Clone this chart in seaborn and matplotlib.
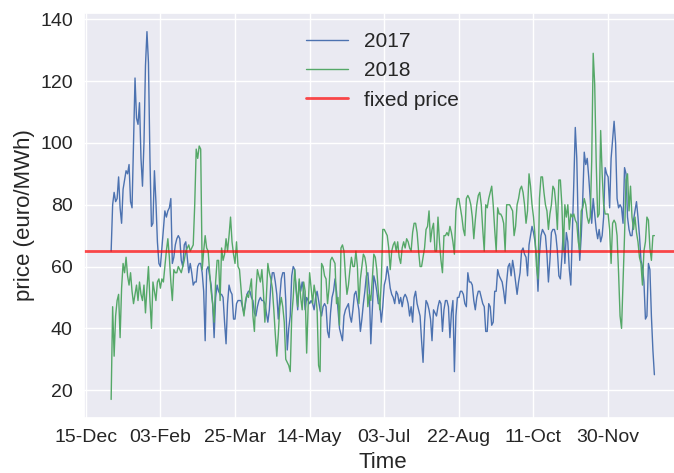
import matplotlib
matplotlib.use("Agg")
import matplotlib.pyplot as plt
import matplotlib.dates as mdates
import seaborn as sns
import pandas as pd

# ---- data ----
price_2017 = [
    65, 80, 84, 81, 82, 89, 79, 74, 85, 88,
    91, 90, 93, 81, 79, 100, 121, 108, 106, 113,
    95, 86, 100, 125, 136, 126, 95, 73, 74, 91,
    81, 68, 61, 60, 66, 72, 78, 76, 78, 79,
    82, 61, 63, 67, 69, 70, 69, 62, 60, 67,
    68, 63, 58, 61, 58, 54, 55, 55, 60, 61,
    61, 58, 52, 36, 59, 60, 57, 54, 48, 37,
    50, 54, 52, 51, 51, 50, 42, 35, 48, 54,
    52, 51, 43, 43, 48, 49, 49, 49, 47, 45,
    48, 51, 52, 52, 50, 49, 45, 44, 47, 49,
    50, 49, 49, 48, 45, 42, 46, 54, 58, 58,
    55, 51, 43, 50, 56, 58, 58, 49, 33, 40,
    44, 57, 60, 59, 52, 46, 55, 52, 55, 52,
    46, 50, 49, 48, 49, 48, 46, 50, 52, 49,
    46, 44, 47, 48, 47, 39, 37, 45, 50, 52,
    56, 52, 46, 40, 38, 36, 44, 46, 47, 48,
    44, 42, 46, 51, 52, 49, 46, 39, 43, 48,
    52, 57, 58, 52, 35, 46, 57, 55, 52, 48,
    48, 42, 47, 54, 56, 60, 57, 53, 51, 50,
    48, 52, 51, 48, 50, 47, 50, 51, 50, 48,
    44, 47, 42, 50, 52, 48, 46, 44, 36, 29,
    42, 49, 48, 46, 43, 36, 46, 45, 44, 47,
    49, 48, 39, 46, 49, 49, 47, 37, 45, 49,
    26, 44, 50, 50, 52, 52, 51, 48, 47, 58,
    55, 55, 54, 49, 46, 50, 52, 52, 50, 48,
    47, 39, 39, 48, 47, 41, 42, 52, 52, 59,
    57, 56, 55, 52, 48, 55, 60, 61, 57, 62,
    59, 55, 51, 55, 58, 65, 66, 64, 63, 57,
    67, 70, 73, 71, 68, 63, 52, 64, 70, 72,
    71, 70, 64, 55, 62, 71, 72, 72, 70, 65,
    57, 56, 63, 72, 61, 71, 68, 59, 54, 70,
    87, 105, 95, 72, 62, 70, 82, 97, 93, 95,
    89, 82, 74, 82, 77, 72, 69, 72, 68, 70,
    76, 92, 90, 89, 79, 95, 101, 107, 100, 82,
    79, 80, 79, 74, 92, 90, 76, 72, 70, 70,
    75, 78, 81, 76, 70, 62, 60, 55, 43, 44,
    61, 59, 44, 33, 25,
]

price_2018 = [
    17, 47, 31, 44, 49, 51, 37, 53, 61, 58,
    63, 57, 54, 58, 52, 48, 51, 54, 49, 55,
    51, 49, 54, 45, 53, 60, 49, 40, 55, 52,
    49, 55, 56, 53, 56, 55, 60, 65, 69, 63,
    55, 49, 59, 58, 58, 60, 59, 58, 60, 62,
    65, 66, 67, 65, 66, 67, 80, 98, 95, 99,
    98, 59, 65, 70, 66, 65, 58, 52, 48, 42,
    55, 62, 62, 49, 66, 62, 64, 69, 65, 70,
    76, 68, 64, 61, 68, 60, 59, 53, 47, 44,
    49, 51, 50, 53, 56, 44, 39, 52, 59, 57,
    55, 59, 52, 42, 50, 61, 58, 56, 53, 46,
    38, 31, 38, 47, 50, 47, 42, 30, 29, 28,
    26, 44, 50, 59, 53, 47, 56, 50, 46, 55,
    52, 32, 47, 58, 53, 48, 54, 51, 46, 28,
    26, 61, 60, 57, 56, 48, 53, 62, 63, 62,
    61, 48, 50, 41, 66, 67, 65, 57, 51, 54,
    59, 63, 60, 60, 65, 60, 48, 56, 60, 64,
    63, 60, 47, 51, 49, 56, 64, 63, 59, 52,
    46, 55, 72, 72, 71, 70, 66, 59, 65, 67,
    68, 65, 68, 63, 61, 66, 68, 66, 69, 68,
    66, 65, 71, 74, 74, 71, 65, 60, 60, 63,
    66, 72, 73, 78, 68, 72, 74, 65, 65, 76,
    68, 62, 58, 70, 70, 71, 70, 73, 71, 68,
    64, 78, 82, 82, 79, 76, 72, 70, 82, 83,
    82, 80, 76, 69, 75, 80, 83, 84, 80, 72,
    65, 80, 79, 82, 84, 86, 80, 72, 65, 79,
    77, 77, 76, 74, 65, 80, 80, 80, 79, 78,
    70, 73, 80, 82, 85, 86, 84, 80, 74, 78,
    90, 86, 80, 76, 70, 60, 56, 82, 89, 89,
    84, 80, 78, 72, 77, 80, 86, 85, 80, 72,
    88, 88, 80, 65, 80, 76, 80, 72, 77, 76,
    77, 75, 74, 68, 65, 78, 79, 82, 80, 76,
    74, 76, 94, 129, 119, 94, 76, 77, 104, 90,
    80, 77, 77, 77, 72, 61, 74, 75, 74, 70,
    58, 44, 40, 55, 70, 88, 90, 78, 86, 76,
    72, 76, 71, 68, 63, 61, 54, 65, 68, 76,
    75, 66, 62, 70, 70,
]

fixed_price = 65
series_labels = ["2017", "2018"]
start_date = "2017-01-01"
tick_start = "2016-12-15"
tick_step_days = 50
n_ticks = 8

# ---- build table ----
dates = pd.date_range(start_date, periods=len(price_2017), freq="D")
df = pd.concat([
    pd.DataFrame({"Time": dates, "price": price_2017, "year": series_labels[0]}),
    pd.DataFrame({"Time": dates, "price": price_2018, "year": series_labels[1]}),
], ignore_index=True)

sns.set_theme(style="darkgrid")
plt.rcParams["font.family"] = ["Liberation Sans", "DejaVu Sans"]

fig = plt.figure(figsize=(6.74, 4.73), dpi=100)
ax = fig.add_axes([0.1246, 0.1163, 0.8866, 0.856])

palette = {"2017": "#4C72B0", "2018": "#55A868"}
sns.lineplot(data=df, x="Time", y="price", hue="year", palette=palette,
             linewidth=1.0, ax=ax)
ax.axhline(fixed_price, color="red", alpha=0.7, linewidth=2, label="fixed price")

ticks = pd.date_range(tick_start, periods=n_ticks, freq=f"{tick_step_days}D")
ax.set_xticks(ticks)
ax.xaxis.set_major_formatter(mdates.DateFormatter("%d-%b"))
ax.tick_params(axis="both", labelsize=14, length=0, pad=8)
ax.set_ylim(11, 142)

ax.set_xlabel("Time", fontsize=16)
ax.set_ylabel("price (euro/MWh)", fontsize=16)

handles, labels = ax.get_legend_handles_labels()
ax.legend(handles, labels, loc="upper center", frameon=False, fontsize=15)

fig.savefig("out.png", dpi=100)
